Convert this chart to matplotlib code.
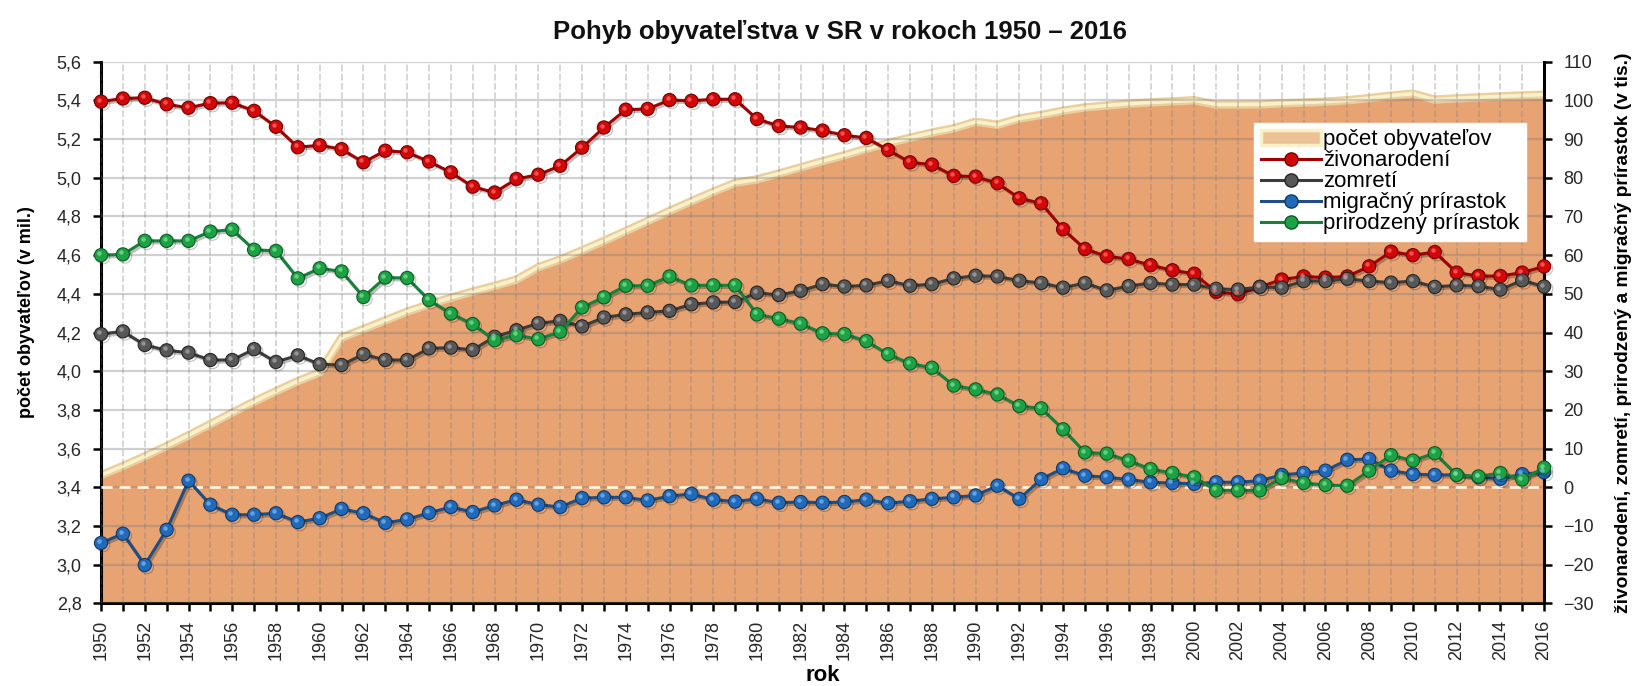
import matplotlib
matplotlib.use("Agg")
import matplotlib.pyplot as plt
import matplotlib.patheffects as pe
from matplotlib.lines import Line2D
from matplotlib.patches import Patch
from matplotlib.ticker import MultipleLocator, FuncFormatter
from matplotlib.transforms import offset_copy

years = list(range(1950, 2017))

# počet obyvateľov (mil.)
population = [
    3.463, 3.510, 3.560, 3.613, 3.669, 3.727, 3.786, 3.843, 3.897, 3.949,
    3.994, 4.174, 4.218, 4.263, 4.308, 4.346, 4.380, 4.412, 4.441, 4.474,
    4.538, 4.578, 4.625, 4.674, 4.725, 4.777, 4.829, 4.879, 4.928, 4.974,
    4.992, 5.022, 5.054, 5.086, 5.117, 5.150, 5.180, 5.207, 5.234, 5.256,
    5.290, 5.274, 5.307, 5.325, 5.347, 5.364, 5.374, 5.383, 5.390, 5.395,
    5.401, 5.379, 5.379, 5.380, 5.385, 5.389, 5.394, 5.401, 5.412, 5.425,
    5.435, 5.404, 5.411, 5.416, 5.421, 5.426, 5.430,
]

# živonarodení (tis.)
births = [
    99.7, 100.5, 100.7, 99.0, 98.1, 99.3, 99.4, 97.3, 93.2, 87.9,
    88.4, 87.4, 84.0, 87.0, 86.6, 84.2, 81.4, 77.7, 76.2, 79.7,
    80.8, 83.1, 87.8, 93.0, 97.6, 97.8, 100.1, 99.9, 100.3, 100.3,
    95.2, 93.4, 93.0, 92.2, 91.0, 90.3, 87.2, 84.0, 83.4, 80.5,
    80.3, 78.6, 74.7, 73.4, 66.7, 61.6, 59.7, 59.0, 57.4, 56.1,
    55.2, 50.5, 49.9, 51.8, 53.7, 54.5, 54.2, 54.5, 57.1, 60.9,
    60.0, 60.8, 55.5, 54.6, 54.6, 55.5, 57.1,
]

# zomretí (tis.)
deaths = [
    39.6, 40.3, 36.8, 35.4, 34.8, 32.9, 32.9, 35.7, 32.4, 34.1,
    31.8, 31.6, 34.4, 32.9, 32.9, 35.9, 36.1, 35.5, 38.9, 40.6,
    42.4, 43.0, 41.6, 43.9, 44.7, 45.2, 45.6, 47.3, 47.8, 47.9,
    50.3, 49.7, 50.8, 52.5, 51.9, 52.2, 53.4, 52.1, 52.5, 54.0,
    54.7, 54.5, 53.4, 52.8, 51.6, 52.8, 50.9, 52.0, 52.8, 52.4,
    52.4, 51.3, 51.1, 51.8, 51.6, 53.3, 53.3, 53.9, 53.3, 52.9,
    53.3, 51.8, 52.2, 52.0, 51.1, 53.5, 51.9,
]

# migračný prírastok (tis.)
migration = [
    -14.4, -12.0, -20.1, -11.0, 1.7, -4.5, -7.1, -7.1, -6.7, -9.0,
    -8.0, -5.6, -6.7, -9.2, -8.3, -6.6, -5.1, -6.4, -4.7, -3.2,
    -4.5, -5.1, -2.8, -2.6, -2.6, -3.4, -2.3, -1.7, -3.2, -3.7,
    -3.0, -4.0, -3.8, -4.0, -3.8, -3.2, -4.1, -3.6, -3.0, -2.6,
    -2.1, 0.4, -3.0, 2.1, 4.9, 3.0, 2.6, 2.0, 1.3, 1.1,
    0.9, 1.3, 1.3, 1.7, 3.2, 3.7, 4.3, 7.1, 7.3, 4.3,
    3.4, 3.2, 3.2, 2.6, 2.2, 3.4, 3.9,
]

# prirodzený prírastok (tis.)
natural = [
    60.0, 60.2, 63.7, 63.7, 63.7, 66.1, 66.6, 61.4, 61.1, 54.0,
    56.6, 55.8, 49.2, 54.2, 54.1, 48.4, 44.9, 42.2, 38.0, 39.3,
    38.3, 40.2, 46.5, 49.1, 52.1, 52.1, 54.5, 52.2, 52.2, 52.2,
    44.7, 43.6, 42.3, 39.8, 39.6, 37.8, 34.4, 32.0, 30.9, 26.3,
    25.3, 24.0, 21.0, 20.4, 15.0, 9.0, 8.7, 6.9, 4.7, 3.7,
    2.6, -0.8, -0.8, -0.8, 2.4, 1.1, 0.6, 0.4, 4.3, 8.3,
    6.9, 8.8, 3.2, 2.8, 3.7, 2.0, 5.1,
]

plt.rcParams["font.family"] = ["Liberation Sans", "DejaVu Sans"]

FILL = "#e8a373"
# (values, label, line colour, marker face, marker edge, highlight)
series = [
    (births, "živonarodení", "#a00000", "#d20707", "#6e0000", "#ff6a6a"),
    (deaths, "zomretí", "#3c3c3c", "#575757", "#242424", "#a8a8a8"),
    (migration, "migračný prírastok", "#1d4f86", "#206ab9", "#123a66", "#7fb6f0"),
    (natural, "prirodzený prírastok", "#17803a", "#1ca244", "#0d5a25", "#7fe09a"),
]

fig = plt.figure(figsize=(16.35, 6.86), dpi=100)
ax = fig.add_axes([0.0618, 0.1205, 0.8826, 0.7895])
ax2 = ax.twinx()

ax.fill_between(years, 2.8, population, color=FILL, lw=0, zorder=1)
ax.plot(years, population, color="#e9cf9e", lw=6, zorder=1.2, solid_capstyle="butt")
ax.plot(years, population, color="#fbf1c9", lw=2.6, zorder=1.3, solid_capstyle="butt")

ax.set_xlim(1950, 2016)
ax.set_ylim(2.8, 5.6)
ax.yaxis.set_major_locator(MultipleLocator(0.2))
ax.yaxis.set_major_formatter(FuncFormatter(lambda v, p: f"{v:.1f}".replace(".", ",")))
ax.xaxis.set_major_locator(MultipleLocator(2))
ax.xaxis.set_minor_locator(MultipleLocator(1))
ax.xaxis.set_major_formatter(FuncFormatter(lambda v, p: f"{int(v)}"))

ax.set_axisbelow(False)
ax.grid(axis="y", color="#7a7a7a", alpha=0.35, lw=1.6)
ax.grid(axis="x", which="both", color="#7a7a7a", alpha=0.35, lw=1.2, ls=(0, (4, 1.5)))

ax2.set_ylim(-30, 110)
ax2.yaxis.set_major_locator(MultipleLocator(10))
ax2.axhline(0, color="#fff4df", lw=2, ls=(0, (4, 2.5)), zorder=1)

shadow = [pe.SimpleLineShadow(offset=(1.5, -1.5), shadow_color="black", alpha=0.25), pe.Normal()]
glint = offset_copy(ax2.transData, fig=fig, x=-1.4, y=1.4, units="points")
for values, label, lc, fc, ec, hc in series:
    ax2.plot(years, values, color=lc, lw=2.2, marker="o", ms=9.5, mfc=fc, mec=ec,
             mew=0.8, clip_on=False, zorder=3, path_effects=shadow)
    ax2.plot(years, values, ls="none", marker="o", ms=3.2, mfc=hc, mec="none",
             alpha=0.75, clip_on=False, zorder=3.1, transform=glint)

for a in (ax, ax2):
    a.tick_params(axis="both", labelsize=13, labelcolor="#262626", color="black",
                  width=1.8, length=6, direction="out")
ax.tick_params(axis="y", pad=8)
ax2.tick_params(axis="y", pad=8)
ax.tick_params(axis="x", which="minor", width=1.8, length=6, color="black")
ax.tick_params(axis="x", labelrotation=90, pad=6)

ax.spines["top"].set_visible(False)
ax.spines["right"].set_visible(False)
for s in ("left", "bottom"):
    ax.spines[s].set_linewidth(2.2)
for s in ("top", "left", "bottom"):
    ax2.spines[s].set_visible(False)
ax2.spines["right"].set_linewidth(2.2)

fig.text(0.514, 0.953, "Pohyb obyvateľstva v SR v rokoch 1950 – 2016",
         ha="center", va="center", fontsize=18.5, fontweight="bold", color="#111111")
ax.set_ylabel("počet obyvateľov (v mil.)", fontsize=13, fontweight="bold")
ax.yaxis.set_label_coords(-0.046, 0.538)
ax2.set_ylabel("živonarodení, zomretí, prirodzený a migračný prírastok (v tis.)",
               fontsize=13.8, fontweight="bold", labelpad=15)
ax.set_xlabel("rok", fontsize=16, fontweight="bold", labelpad=3)

handles = [Patch(facecolor="#ecc196", edgecolor="#fbf1c9", lw=2.5)]
handles += [Line2D([], [], color=lc, lw=2.2, marker="o", ms=9.5, mfc=fc, mec=ec)
            for _, _, lc, fc, ec, _ in series]
labels = ["počet obyvateľov"] + [s[1] for s in series]
leg = ax2.legend(handles, labels, loc="upper right", bbox_to_anchor=(0.995, 0.908),
                 fontsize=16, frameon=True, fancybox=False, framealpha=1,
                 edgecolor="white", facecolor="white", handlelength=2.7,
                 handletextpad=0.1, labelspacing=0.0, borderpad=0.3)
leg.set_zorder(5)

fig.savefig("out.png", dpi=100)
